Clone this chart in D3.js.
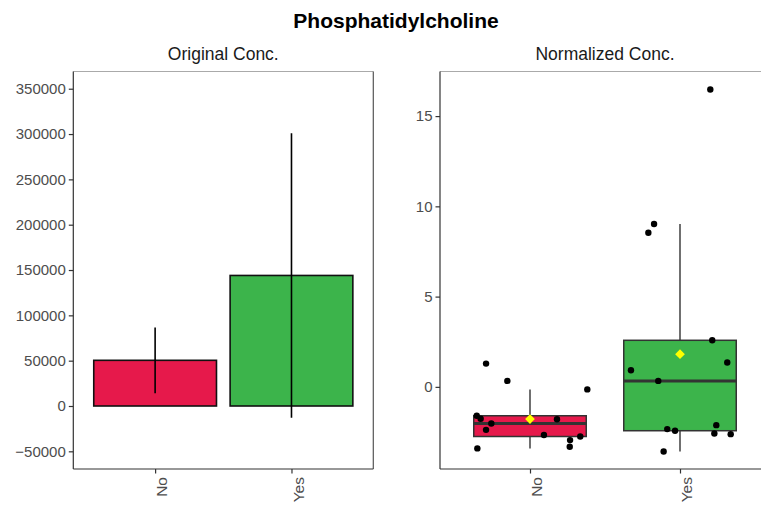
<!DOCTYPE html>
<html>
<head>
<meta charset="utf-8">
<script src="https://cdn.jsdelivr.net/npm/d3@7"></script>
<style>
  body { margin: 0; background: #fff; }
  svg { display: block; font-family: "Liberation Sans", Arial, sans-serif; }
</style>
</head>
<body>
<svg id="chart" width="761" height="507"></svg>
<script>
const groups = ["No", "Yes"];
const groupColors = ["#E6194B", "#3CB44B"];

// left panel: mean and sd of original concentrations
const origMean = [50400, 144000];
const origSd = [36200, 157000];
const origTicks = [-50000, 0, 50000, 100000, 150000, 200000, 250000, 300000, 350000];

// right panel: normalized values per sample, with their jitter (category units)
const normNo = [1.29, 0.33, -0.14, -1.60, -1.77, -2.03, -2.38, -1.79, -2.67, -2.75, -2.95, -3.32, -3.41];
const jitterNo = [-0.293, -0.151, 0.382, -0.355, -0.329, -0.258, -0.293, 0.18, 0.093, 0.335, 0.267, 0.265, -0.351];
const normYes = [2.58, 1.35, 0.92, 0.33, -2.34, -2.43, -2.12, -2.58, -2.62, -3.58, 8.54, 9.02, 16.47];
const jitterYes = [0.215, 0.315, -0.327, -0.145, -0.085, -0.033, 0.242, 0.229, 0.338, -0.109, -0.211, -0.173, 0.202];
const normTicks = [0, 5, 10, 15];

const svg = d3.select("#chart");
const panelTop = 71.5, panelBottom = 469;

svg.append("text")
    .attr("x", 396).attr("y", 28)
    .attr("text-anchor", "middle")
    .style("font-size", "21px").style("font-weight", "bold")
    .text("Phosphatidylcholine");

function panel(x0, x1, yDomain, ticks, title) {
    const x = d3.scaleLinear().domain([0.4, 2.6]).range([x0, x1]);
    const y = d3.scaleLinear().domain(yDomain).range([panelBottom, panelTop]);
    const g = svg.append("g");

    g.append("text")
        .attr("x", (x0 + x1) / 2).attr("y", 60)
        .attr("text-anchor", "middle")
        .style("font-size", "17.5px").style("fill", "#1a1a1a")
        .text(title);

    g.append("line").attr("x1", x0).attr("x2", x1).attr("y1", panelTop).attr("y2", panelTop)
        .attr("stroke", "#aaa").attr("stroke-width", 1.2);
    g.append("line").attr("x1", x1).attr("x2", x1).attr("y1", panelTop).attr("y2", panelBottom)
        .attr("stroke", "#555").attr("stroke-width", 1.2);

    const yAxis = g.append("g")
        .attr("transform", `translate(${x0},0)`)
        .call(d3.axisLeft(y).tickValues(ticks).tickSize(4.5).tickPadding(3).tickFormat(d3.format("d")));
    yAxis.select(".domain").attr("d", `M0,${panelTop}V${panelBottom}`);

    const xAxis = g.append("g")
        .attr("transform", `translate(0,${panelBottom})`)
        .call(d3.axisBottom(x).tickValues([1, 2]).tickSize(4.5).tickFormat(i => groups[i - 1]));
    xAxis.select(".domain").attr("d", `M${x0},0H${x1}`);
    xAxis.selectAll(".tick text")
        .attr("x", 0).attr("y", 0).attr("dy", "0.75em")
        .attr("text-anchor", "end")
        .attr("transform", "translate(0,8) rotate(-90)")
        .style("font-size", "15.5px");

    [yAxis, xAxis].forEach(a => {
        a.select(".domain").attr("stroke", "#333").attr("stroke-width", 1.2);
        a.selectAll(".tick line").attr("stroke", "#333").attr("stroke-width", 1.2);
        a.selectAll(".tick text").style("fill", "#4d4d4d").style("font-family", "'Liberation Sans', Arial, sans-serif");
    });
    yAxis.selectAll(".tick text").style("font-size", "15px");
    return { g, x, y };
}

// left: bar chart with error bars
const L = panel(73.3, 373.3, [-69500, 369000], origTicks, "Original Conc.");
const barData = groups.map((k, i) => ({ k, i: i + 1, mean: origMean[i], sd: origSd[i], color: groupColors[i] }));
L.g.selectAll(".bar").data(barData).enter().append("rect")
    .attr("x", d => L.x(d.i - 0.45))
    .attr("width", L.x(1.45) - L.x(0.55))
    .attr("y", d => L.y(d.mean))
    .attr("height", d => L.y(0) - L.y(d.mean))
    .attr("fill", d => d.color)
    .attr("stroke", "#111").attr("stroke-width", 1.6);
L.g.selectAll(".err").data(barData).enter().append("line")
    .attr("x1", d => L.x(d.i)).attr("x2", d => L.x(d.i))
    .attr("y1", d => L.y(d.mean + d.sd)).attr("y2", d => L.y(d.mean - d.sd))
    .attr("stroke", "#000").attr("stroke-width", 1.6);

// right: box plots with jittered points and mean
const R = panel(440, 770, [-4.55, 17.47], normTicks, "Normalized Conc.");
const norm = [normNo, normYes], jit = [jitterNo, jitterYes];
const boxData = groups.map((k, i) => {
    const v = norm[i].slice().sort(d3.ascending);
    const q1 = d3.quantile(v, 0.25), med = d3.quantile(v, 0.5), q3 = d3.quantile(v, 0.75);
    const iqr = q3 - q1;
    const lo = d3.min(v.filter(d => d >= q1 - 1.5 * iqr));
    const hi = d3.max(v.filter(d => d <= q3 + 1.5 * iqr));
    return { i: i + 1, q1, med, q3, lo, hi, mean: d3.mean(v), color: groupColors[i] };
});
const bw = 0.375;
const box = R.g.selectAll(".box").data(boxData).enter().append("g");
box.append("line")
    .attr("x1", d => R.x(d.i)).attr("x2", d => R.x(d.i))
    .attr("y1", d => R.y(d.hi)).attr("y2", d => R.y(d.q3))
    .attr("stroke", "#333").attr("stroke-width", 1.4);
box.append("line")
    .attr("x1", d => R.x(d.i)).attr("x2", d => R.x(d.i))
    .attr("y1", d => R.y(d.q1)).attr("y2", d => R.y(d.lo))
    .attr("stroke", "#333").attr("stroke-width", 1.4);
box.append("rect")
    .attr("x", d => R.x(d.i - bw)).attr("width", R.x(1 + bw) - R.x(1 - bw))
    .attr("y", d => R.y(d.q3)).attr("height", d => R.y(d.q1) - R.y(d.q3))
    .attr("fill", d => d.color).attr("stroke", "#333").attr("stroke-width", 1.5);
box.append("line")
    .attr("x1", d => R.x(d.i - bw)).attr("x2", d => R.x(d.i + bw))
    .attr("y1", d => R.y(d.med)).attr("y2", d => R.y(d.med))
    .attr("stroke", "#333").attr("stroke-width", 3);

const pts = [];
groups.forEach((k, i) => norm[i].forEach((v, j) => pts.push({ i: i + 1, v, jx: jit[i][j] })));
R.g.selectAll(".pt").data(pts).enter().append("circle")
    .attr("cx", d => R.x(d.i + d.jx)).attr("cy", d => R.y(d.v))
    .attr("r", 3.2).attr("fill", "#000");

R.g.selectAll(".mean").data(boxData).enter().append("path")
    .attr("transform", d => `translate(${R.x(d.i)},${R.y(d.mean)})`)
    .attr("d", d3.symbol(d3.symbolDiamond2, 60))
    .attr("fill", "#ffff00");
</script>
</body>
</html>
